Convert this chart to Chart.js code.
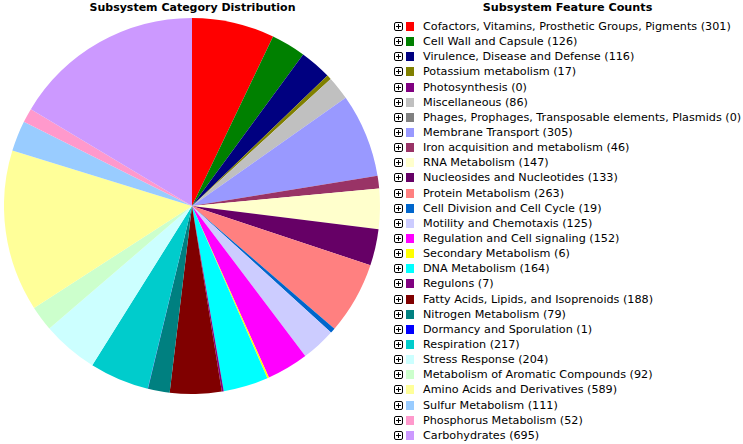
<!DOCTYPE html>
<html lang="en">
<head>
    <meta charset="UTF-8">
    <title>Subsystem Category Distribution</title>
    <script src="https://cdn.jsdelivr.net/npm/chart.js"></script>
    <style>
        body { margin: 0; background: #fff; font-family: "DejaVu Sans", Verdana, sans-serif; }
        #wrap { position: relative; width: 743px; height: 444px; overflow: hidden; }
        .title { position: absolute; top: 1px; font-weight: bold; font-size: 11px; color: #000; text-align: center; }
        #pieTitle { left: 0; width: 385px; }
        #legTitle { left: 395px; width: 345px; font-size: 11.2px; }
        #pieBox { position: absolute; left: 4px; top: 18px; width: 376px; height: 376px; }
        #legend { position: absolute; left: 394px; top: 19px; font-size: 11.2px; color: #000; }
        .row { height: 15.15px; line-height: 15px; white-space: nowrap; }
        .plus { display: inline-block; width: 7px; height: 7px; border: 1px solid #000; border-radius: 2px;
                background: linear-gradient(#000,#000) center/5px 1px no-repeat, linear-gradient(#000,#000) center/1px 5px no-repeat;
                vertical-align: -1px; margin-right: 3px; }
        .sw { display: inline-block; width: 8px; height: 9px; vertical-align: -1px; margin-right: 9px; }
    </style>
</head>
<body>
<div id="wrap">
    <div id="pieTitle" class="title">Subsystem Category Distribution</div>
    <div id="legTitle" class="title">Subsystem Feature Counts</div>
    <div id="pieBox"><canvas id="pie" width="376" height="376"></canvas></div>
    <div id="legend"></div>
</div>

<script>
    // categories in pie order (clockwise from 12 o'clock)
    var categories = [
        "Cofactors, Vitamins, Prosthetic Groups, Pigments",
        "Cell Wall and Capsule",
        "Virulence, Disease and Defense",
        "Potassium metabolism",
        "Photosynthesis",
        "Miscellaneous",
        "Phages, Prophages, Transposable elements, Plasmids",
        "Membrane Transport",
        "Iron acquisition and metabolism",
        "RNA Metabolism",
        "Nucleosides and Nucleotides",
        "Protein Metabolism",
        "Cell Division and Cell Cycle",
        "Motility and Chemotaxis",
        "Regulation and Cell signaling",
        "Secondary Metabolism",
        "DNA Metabolism",
        "Regulons",
        "Fatty Acids, Lipids, and Isoprenoids",
        "Nitrogen Metabolism",
        "Dormancy and Sporulation",
        "Respiration",
        "Stress Response",
        "Metabolism of Aromatic Compounds",
        "Amino Acids and Derivatives",
        "Sulfur Metabolism",
        "Phosphorus Metabolism",
        "Carbohydrates"
    ];
    var counts = [301, 126, 116, 17, 0, 86, 0, 305, 46, 147, 133, 263, 19, 125, 152, 6, 164, 7, 188, 79, 1, 217, 204, 92, 589, 111, 52, 695];
    var colors = [
        "#FF0000", "#008000", "#000080", "#808000", "#800080", "#C0C0C0", "#808080",
        "#9999FF", "#993366", "#FFFFCC", "#660066", "#FF8080", "#0066CC", "#CCCCFF",
        "#FF00FF", "#FFFF00", "#00FFFF", "#800080", "#800000", "#008080", "#0000FF",
        "#00CCCC", "#CCFFFF", "#CCFFCC", "#FFFF99", "#99CCFF", "#FF99CC", "#CC99FF"
    ];

    new Chart(document.getElementById('pie'), {
        type: 'pie',
        data: {
            labels: categories,
            datasets: [{ data: counts, backgroundColor: colors, borderWidth: 0 }]
        },
        options: {
            responsive: false,
            animation: false,
            layout: { padding: 0 },
            plugins: { legend: { display: false }, tooltip: { enabled: false } }
        }
    });

    // html legend with the little "+" boxes
    var leg = document.getElementById('legend');
    categories.forEach(function (name, i) {
        var row = document.createElement('div');
        row.className = 'row';
        row.innerHTML = '<span class="plus"></span><span class="sw" style="background:' + colors[i] + '"></span>' +
            name + ' (' + counts[i] + ')';
        leg.appendChild(row);
    });
</script>
</body>
</html>
